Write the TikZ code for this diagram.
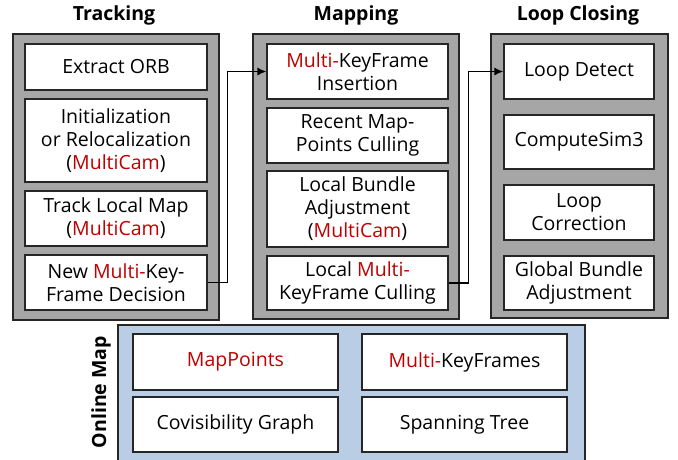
\documentclass[tikz,border=0pt]{standalone}
\usepackage{fontspec}
\setmainfont{Open Sans}
\usepackage{xcolor}
\usetikzlibrary{positioning, arrows.meta, calc}

\definecolor{redtx}{HTML}{C00000}
\definecolor{panelgray}{HTML}{A6A6A6}
\definecolor{mapblue}{HTML}{B9CDE5}
\newcommand{\mc}[1]{\textcolor{redtx}{#1}}

\begin{document}
\begin{tikzpicture}[
    x=1pt, y=-1pt,
    panel/.style={rectangle, draw=black!85, fill=panelgray, line width=1.3pt, inner sep=0pt},
    blk/.style={rectangle, draw=black!85, fill=white, line width=1.1pt, align=center, inner sep=0pt, font=\fontsize{19.5}{23}\selectfont},
    ttl/.style={font=\bfseries\fontsize{19.5}{23}\selectfont},
    arr/.style={-{Latex[length=9pt, width=8pt]}, line width=1.5pt}
]
\clip (0,0) rectangle (678,459);

% panels
\node[panel, minimum width=206pt, minimum height=286pt] (trk) at (116,177) {};
\node[panel, minimum width=206pt, minimum height=285pt] (map) at (356,176.5) {};
\node[panel, minimum width=177pt, minimum height=284pt] (loop) at (579.5,176) {};
\draw[draw=black!85, fill=mapblue, line width=1.3pt] (118,325) rectangle (585,475);

\node[ttl] (trkt) at (114,15) {Tracking};
\node[ttl] (mapt) at (356,15) {Mapping};
\node[ttl] (loopt) at (578,15) {Loop Closing};
\node[ttl, rotate=90] (omt) at (101,392) {Online Map};

% tracking
\node[blk, minimum width=182pt, minimum height=46pt] (tr1) at (116,67) {Extract ORB};
\node[blk, minimum width=182pt, minimum height=83pt] (tr2) at (116,140.5) {Initialization\\or Relocalization\\(\mc{MultiCam})};
\node[blk, minimum width=182pt, minimum height=55pt] (tr3) at (116,218.5) {Track Local Map\\(\mc{MultiCam})};
\node[blk, minimum width=182pt, minimum height=55pt] (tr4) at (116,282.5) {New \mc{Multi-}Key-\\Frame Decision};

% mapping
\node[blk, minimum width=181pt, minimum height=55pt] (mp1) at (357.5,71.5) {\mc{Multi-}KeyFrame\\Insertion};
\node[blk, minimum width=181pt, minimum height=55pt] (mp2) at (357.5,135.5) {Recent Map-\\Points Culling};
\node[blk, minimum width=181pt, minimum height=76pt] (mp3) at (357.5,209) {Local Bundle\\Adjustment\\(\mc{MultiCam})};
\node[blk, minimum width=181pt, minimum height=54pt] (mp4) at (357.5,283) {Local \mc{Multi-}\\KeyFrame Culling};

% loop closing
\node[blk, minimum width=150pt, minimum height=55pt] (lc1) at (579,71.5) {Loop Detect};
\node[blk, minimum width=150pt, minimum height=54pt] (lc2) at (579,142) {ComputeSim3};
\node[blk, minimum width=150pt, minimum height=55pt] (lc3) at (579,212.5) {Loop\\Correction};
\node[blk, minimum width=150pt, minimum height=54pt] (lc4) at (579,283) {Global Bundle\\Adjustment};

% online map
\node[blk, minimum width=205pt, minimum height=56pt] (om1) at (235.5,362) {\mc{MapPoints}};
\node[blk, minimum width=205pt, minimum height=56pt] (om2) at (464.5,362) {\mc{Multi-}KeyFrames};
\node[blk, minimum width=205pt, minimum height=55pt] (om3) at (235.5,424.5) {Covisibility Graph};
\node[blk, minimum width=205pt, minimum height=55pt] (om4) at (464.5,424.5) {Spanning Tree};

% connectors
\draw[arr] (tr4.east) -- ++(20,0) |- (mp1.west);
\draw[arr] (mp4.east) -- ++(20,0) |- (lc1.west);

\end{tikzpicture}
\end{document}
